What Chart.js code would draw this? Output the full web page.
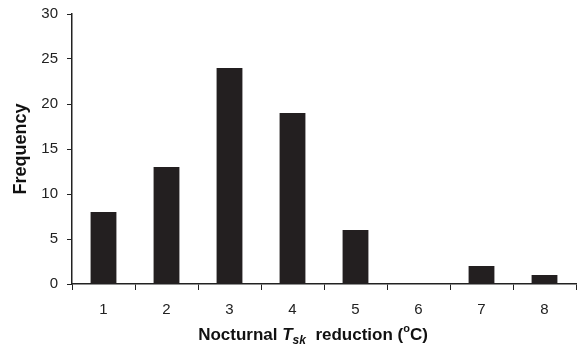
<!DOCTYPE html>
<html>
<head>
<meta charset="utf-8">
<script src="https://cdn.jsdelivr.net/npm/chart.js@4"></script>
<style>
  html, body { margin: 0; padding: 0; background: #fff; }
  #wrap { position: relative; width: 577px; height: 361px; }
</style>
</head>
<body>
<div id="wrap"><canvas id="freqChart" width="577" height="361"></canvas></div>
<script>
var reduction = ["1", "2", "3", "4", "5", "6", "7", "8"];
var frequency = [8, 13, 24, 19, 6, 0, 2, 1];
var yTicks = [0, 5, 10, 15, 20, 25, 30];

var ink = "#231f20";
var fontFamily = "'Liberation Sans', Arial, sans-serif";

// x axis title has italics, subscript and superscript, so draw it by hand
var xTitlePlugin = {
	id: "xTitle",
	afterDraw: function(chart) {
		var ctx = chart.ctx;
		var cx = (chart.chartArea.left + chart.chartArea.right) / 2 - 11;
		var y = 340;
		var parts = [
			{ t: "Nocturnal ", f: "bold 17px " + fontFamily, dy: 0 },
			{ t: "T", f: "italic bold 17px " + fontFamily, dy: 0 },
			{ t: "sk", f: "italic bold 12px " + fontFamily, dy: 4 },
			{ t: "  reduction (", f: "bold 17px " + fontFamily, dy: 0 },
			{ t: "o", f: "bold 11px " + fontFamily, dy: -8 },
			{ t: "C)", f: "bold 17px " + fontFamily, dy: 0 }
		];
		ctx.save();
		var total = 0;
		parts.forEach(function(p) {
			ctx.font = p.f;
			p.w = ctx.measureText(p.t).width;
			total += p.w;
		});
		var x = cx - total / 2;
		ctx.fillStyle = "#111";
		ctx.textBaseline = "alphabetic";
		ctx.textAlign = "left";
		parts.forEach(function(p) {
			ctx.font = p.f;
			ctx.fillText(p.t, x, y + p.dy);
			x += p.w;
		});
		ctx.restore();
	}
};

new Chart("freqChart", {
	type: "bar",
	data: {
		labels: reduction,
		datasets: [{
			data: frequency,
			backgroundColor: ink,
			borderWidth: 0,
			categoryPercentage: 1,
			barPercentage: 0.41
		}]
	},
	options: {
		responsive: false,
		animation: false,
		layout: { padding: { top: 14, right: 1, bottom: 0, left: 0 } },
		plugins: {
			legend: { display: false },
			tooltip: { enabled: false }
		},
		scales: {
			x: {
				offset: true,
				grid: {
					offset: true,
					drawOnChartArea: false,
					drawTicks: true,
					tickLength: 6,
					color: "#222",
					lineWidth: 1
				},
				border: { color: "#222", width: 1.5 },
				ticks: {
					color: "#222",
					padding: 11,
					font: { family: fontFamily, size: 15 }
				},
				afterFit: function(scale) { scale.height = 77; }
			},
			y: {
				min: 0,
				max: 30,
				afterBuildTicks: function(scale) {
					scale.ticks = yTicks.map(function(v) { return { value: v }; });
				},
				grid: {
					drawOnChartArea: false,
					drawTicks: true,
					tickLength: 5,
					color: "#222",
					lineWidth: 1
				},
				border: { color: "#222", width: 1.5 },
				ticks: {
					color: "#222",
					padding: 9,
					font: { family: fontFamily, size: 15 }
				},
				title: {
					display: true,
					text: "Frequency",
					color: "#111",
					padding: { top: 10, bottom: 0 },
					font: { family: fontFamily, size: 18, weight: "bold" }
				},
				afterFit: function(scale) {
					scale.width = 72;
					scale.paddingTop = 0;
				}
			}
		}
	},
	plugins: [xTitlePlugin]
});
</script>
</body>
</html>
